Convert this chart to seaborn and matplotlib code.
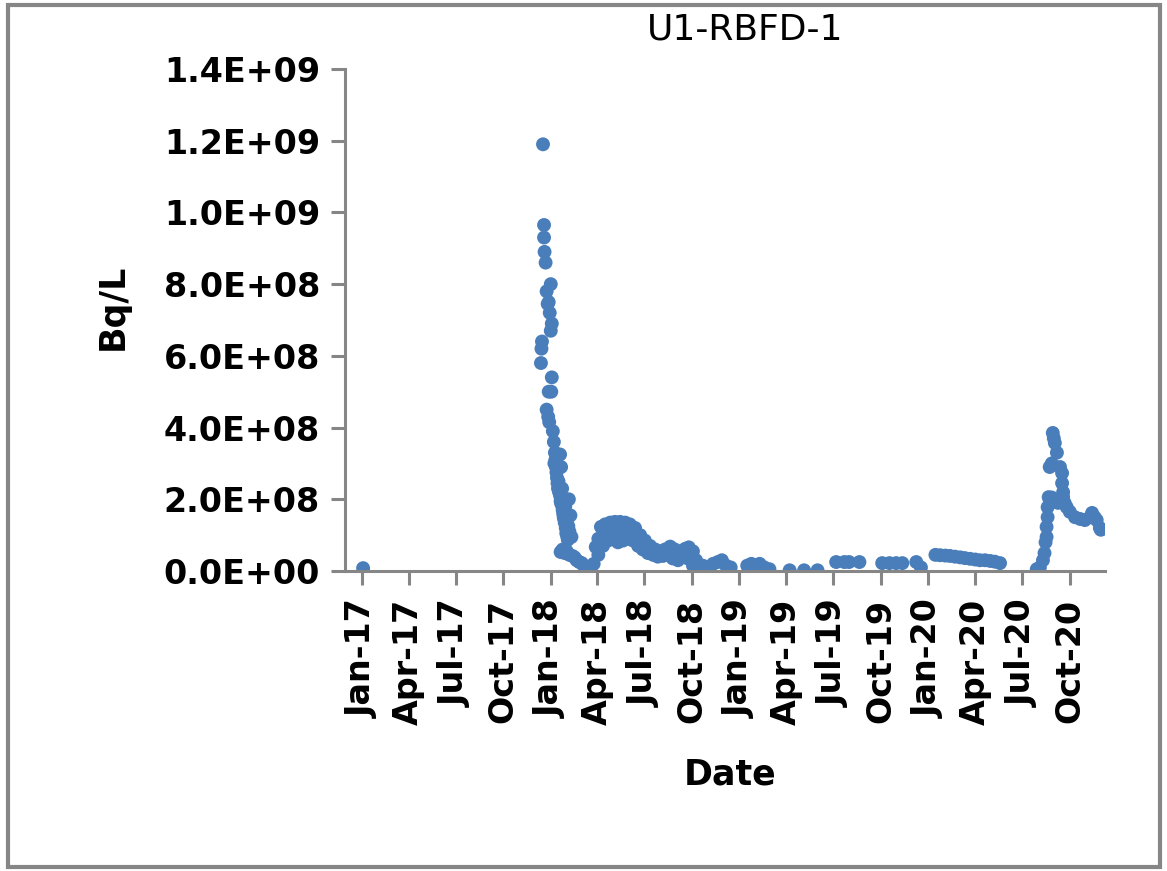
import numpy as np
import pandas as pd
import matplotlib
matplotlib.use("Agg")
import matplotlib.pyplot as plt
import matplotlib.dates as mdates
from matplotlib.ticker import FuncFormatter
from matplotlib.patches import Rectangle
import seaborn as sns

# sample dates and activity (in units of 1E+08 Bq/L)
dates = [
    "2017-01-03",
    # Dec 2017 spike
    "2017-12-13", "2017-12-14", "2017-12-15", "2017-12-17", "2017-12-19", "2017-12-19",
    "2017-12-20", "2017-12-22", "2017-12-24", "2017-12-24", "2017-12-26", "2017-12-27",
    "2017-12-28", "2017-12-28", "2017-12-29", "2017-12-30", "2018-01-01", "2018-01-01",
    "2018-01-02", "2018-01-03", "2018-01-03",
    # decay Jan-Mar 2018
    "2018-01-05", "2018-01-07", "2018-01-09", "2018-01-10", "2018-01-11", "2018-01-12",
    "2018-01-13", "2018-01-14", "2018-01-15", "2018-01-17", "2018-01-19", "2018-01-20",
    "2018-01-22", "2018-01-24", "2018-01-25", "2018-01-27", "2018-01-28", "2018-01-30",
    "2018-01-31", "2018-02-02", "2018-02-03", "2018-02-05", "2018-02-08", "2018-02-10",
    "2018-01-08", "2018-01-16", "2018-01-21", "2018-01-26", "2018-02-04",
    "2018-01-19", "2018-01-21", "2018-01-23", "2018-01-29", "2018-02-01", "2018-02-06",
    "2018-01-20", "2018-01-24", "2018-01-28", "2018-02-01", "2018-02-06", "2018-02-12",
    "2018-02-16", "2018-02-20", "2018-02-25", "2018-03-02", "2018-03-06", "2018-03-10",
    "2018-03-14", "2018-03-17",
    # spring/summer 2018 hump, upper track
    "2018-03-29", "2018-04-03", "2018-04-08", "2018-04-16", "2018-04-26", "2018-05-05",
    "2018-05-15", "2018-05-25", "2018-06-03", "2018-06-13", "2018-06-23", "2018-07-02",
    "2018-07-12", "2018-07-22", "2018-07-31", "2018-08-10", "2018-08-20", "2018-08-29",
    "2018-09-08", "2018-09-18", "2018-09-25", "2018-10-03", "2018-10-09",
    # lower track
    "2018-03-19", "2018-03-25", "2018-04-03", "2018-04-12", "2018-04-22", "2018-05-02",
    "2018-05-11", "2018-05-21", "2018-05-31", "2018-06-09", "2018-06-19", "2018-06-28",
    "2018-07-08", "2018-07-18", "2018-07-27", "2018-08-06", "2018-08-16", "2018-08-25",
    "2018-09-04", "2018-09-14", "2018-09-23", "2018-10-03", "2018-10-13",
    # middle of hump
    "2018-04-20", "2018-05-08", "2018-05-28", "2018-06-16",
    # late 2018
    "2018-10-22", "2018-11-01", "2018-11-11", "2018-11-20", "2018-11-28", "2018-12-06",
    "2018-12-15",
    # 2019
    "2019-01-16", "2019-01-24", "2019-02-01", "2019-02-09", "2019-02-18", "2019-02-28",
    "2019-04-08", "2019-05-06", "2019-06-01",
    "2019-07-07", "2019-07-23", "2019-08-01", "2019-08-21",
    "2019-10-04", "2019-10-18", "2019-10-31", "2019-11-12",
    "2019-12-09", "2019-12-18",
    # 2020
    "2020-01-15", "2020-01-24", "2020-02-03", "2020-02-12", "2020-02-22", "2020-03-03",
    "2020-03-12", "2020-03-22", "2020-04-01", "2020-04-10", "2020-04-20", "2020-04-30",
    "2020-05-09", "2020-05-19",
    "2020-07-29", "2020-08-04", "2020-08-10", "2020-08-13", "2020-08-15", "2020-08-17",
    "2020-08-17", "2020-08-19", "2020-08-19", "2020-08-21", "2020-08-23", "2020-08-23",
    "2020-08-27", "2020-08-29", "2020-08-31", "2020-09-02", "2020-09-06", "2020-09-12",
    "2020-09-16", "2020-09-16", "2020-09-18", "2020-09-18", "2020-09-21", "2020-09-25",
    "2020-08-27", "2020-09-02", "2020-09-08",
    "2020-10-01", "2020-10-11", "2020-10-21", "2020-10-30", "2020-11-09", "2020-11-13",
    "2020-11-18", "2020-11-22", "2020-11-28", "2020-11-30",
]

bq_e8 = [
    0.08,
    # Dec 2017 spike
    5.8, 6.2, 6.4, 11.9, 9.65, 9.3,
    8.9, 8.6, 7.8, 4.5, 7.45, 4.3,
    7.5, 5.0, 4.15, 7.2, 8.0, 6.7,
    5.0, 6.9, 5.4,
    # decay Jan-Mar 2018
    3.9, 3.6, 3.3, 3.1, 2.9, 2.75,
    2.6, 2.45, 2.3, 2.2, 2.1, 1.95,
    1.85, 1.7, 1.6, 1.45, 1.35, 1.2,
    1.05, 0.95, 0.87, 2.0, 1.55, 0.95,
    3.0, 2.5, 1.9, 1.5, 1.25,
    3.25, 2.9, 2.3, 1.8, 1.4, 1.1,
    0.53, 0.6, 0.5, 0.55, 0.45, 0.42,
    0.38, 0.3, 0.25, 0.22, 0.15, 0.1,
    0.05, 0.03,
    # spring/summer 2018 hump, upper track
    0.67, 0.9, 1.23, 1.3, 1.35, 1.37,
    1.37, 1.35, 1.3, 1.2, 1.0, 0.85,
    0.7, 0.6, 0.55, 0.6, 0.68, 0.6,
    0.55, 0.62, 0.66, 0.55, 0.3,
    # lower track
    0.05, 0.2, 0.45, 0.7, 0.85, 0.9,
    0.8, 0.85, 0.9, 0.85, 0.7, 0.6,
    0.5, 0.45, 0.4, 0.42, 0.45, 0.35,
    0.3, 0.45, 0.35, 0.15, 0.1,
    # middle of hump
    1.1, 1.1, 1.1, 1.0,
    # late 2018
    0.15, 0.1, 0.2, 0.25, 0.3, 0.15,
    0.1,
    # 2019
    0.15, 0.2, 0.15, 0.2, 0.1, 0.05,
    0.02, 0.02, 0.02,
    0.25, 0.25, 0.25, 0.25,
    0.22, 0.22, 0.22, 0.22,
    0.25, 0.1,
    # 2020
    0.45, 0.44, 0.43, 0.42, 0.4, 0.38,
    0.36, 0.34, 0.32, 0.3, 0.3, 0.28,
    0.26, 0.22,
    0.05, 0.1, 0.3, 0.5, 0.8, 0.95,
    1.23, 1.5, 1.78, 2.06, 2.9, 2.0,
    3.0, 3.85, 3.7, 3.57, 3.3, 2.9,
    2.73, 2.45, 2.2, 2.06, 1.9, 1.78,
    2.05, 1.95, 1.9,
    1.65, 1.5, 1.45, 1.42, 1.5, 1.62,
    1.5, 1.42, 1.2, 1.15,
]

df = pd.DataFrame({"Date": pd.to_datetime(dates), "Bq/L": np.array(bq_e8) * 1e8})

sns.set_style("white")
plt.rcParams["font.family"] = ["DejaVu Sans"]
plt.rcParams["text.color"] = "black"
plt.rcParams["axes.labelcolor"] = "black"

W, H = 1167, 871
fig = plt.figure(figsize=(W / 100, H / 100), dpi=100)
ax = fig.add_axes([345 / W, (H - 571) / H, 760 / W, 502 / H])

sns.scatterplot(data=df, x="Date", y="Bq/L", ax=ax, color="#4A7EBB",
                s=100, edgecolor="none", legend=False)

grey = "#868686"
ax.set_ylim(0, 1.4e9)
ax.set_yticks(np.arange(0, 1.41e9, 2e8))
ax.yaxis.set_major_formatter(FuncFormatter(lambda v, p: f"{v:.1E}"))

ax.set_xlim(pd.Timestamp("2016-11-29"), pd.Timestamp("2020-12-08"))
ax.set_xticks(pd.date_range("2017-01-01", "2020-10-01", freq="QS"))
ax.xaxis.set_major_formatter(mdates.DateFormatter("%b-%y"))

for side in ["top", "right"]:
    ax.spines[side].set_visible(False)
for side in ["left", "bottom"]:
    ax.spines[side].set_color(grey)
    ax.spines[side].set_linewidth(2.2)

ax.tick_params(axis="both", direction="out", length=10, width=2.2, color=grey,
               labelsize=24, labelcolor="black")
ax.tick_params(axis="x", labelrotation=90, pad=10)
ax.tick_params(axis="y", pad=8, left=True)
ax.tick_params(axis="x", bottom=True)
for lab in ax.get_xticklabels() + ax.get_yticklabels():
    lab.set_fontweight("bold")

ax.set_xlabel("Date", fontsize=25, fontweight="bold")
ax.xaxis.set_label_coords((730 - 345) / 760, (571 - 757) / 502)
ax.set_ylabel("Bq/L", fontsize=25, fontweight="bold")
ax.yaxis.set_label_coords((130 - 345) / 760, (571 - 307) / 502)

fig.text(745 / W, 1 - 30 / H, "U1-RBFD-1", fontsize=26, ha="center", va="center")

fig.patches.append(Rectangle((8 / W, 4 / H), 1152 / W, 862 / H, transform=fig.transFigure,
                             fill=False, edgecolor=grey, linewidth=3))

fig.savefig("out.png", dpi=100)
